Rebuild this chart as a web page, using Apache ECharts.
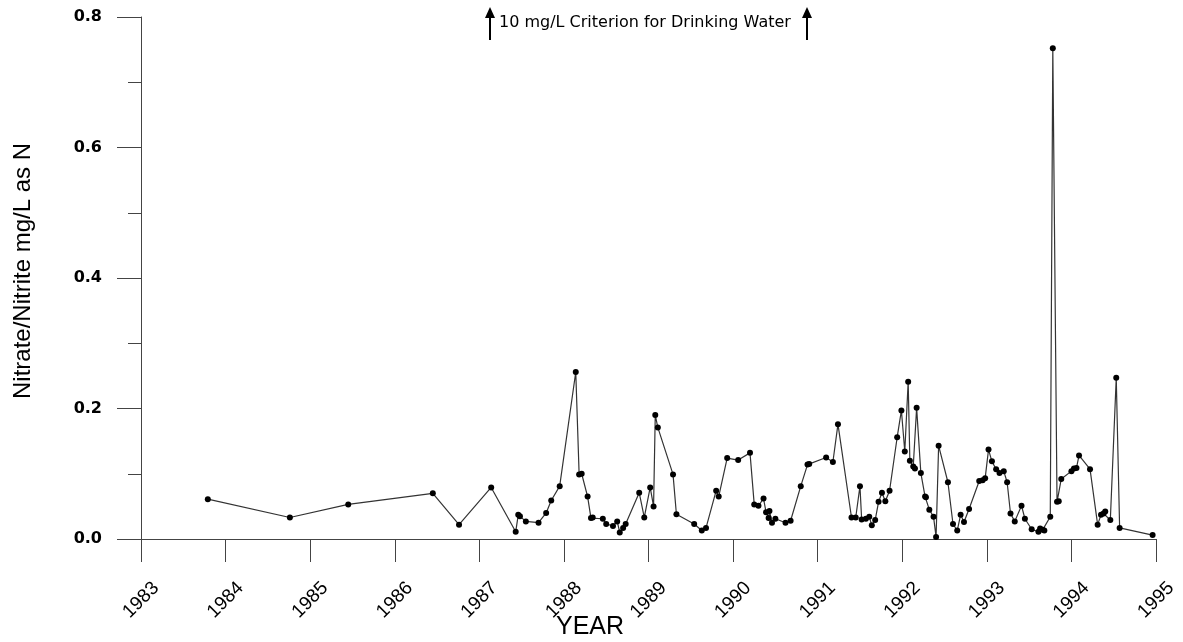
<!DOCTYPE html>
<html>
<head>
<meta charset="utf-8">
<title>Nitrate/Nitrite 1983-1995</title>
<script src="https://cdn.jsdelivr.net/npm/echarts@6/dist/echarts.min.js"></script>
<style>
  html, body { margin: 0; padding: 0; background: #fff; }
  #chart { width: 1183px; height: 642px; }
</style>
</head>
<body>
<div id="chart"></div>
<script>
// Sample dates (decimal years) and measured nitrate/nitrite concentrations (mg/L as N)
const sampleYears = [
  1983.79, 1984.76, 1985.45, 1986.45, 1986.76, 1987.14, 1987.43, 1987.46, 1987.48, 1987.55,
  1987.70, 1987.79, 1987.85, 1987.95, 1988.14, 1988.18, 1988.21, 1988.28, 1988.32, 1988.34,
  1988.46, 1988.50, 1988.58, 1988.63, 1988.66, 1988.70, 1988.73, 1988.89, 1988.95, 1989.02,
  1989.06, 1989.08, 1989.11, 1989.29, 1989.33, 1989.54, 1989.63, 1989.68, 1989.80, 1989.83,
  1989.93, 1990.06, 1990.20, 1990.25, 1990.30, 1990.36, 1990.39, 1990.42, 1990.43, 1990.46,
  1990.50, 1990.62, 1990.68, 1990.80, 1990.88, 1990.90, 1991.10, 1991.18, 1991.24, 1991.40,
  1991.45, 1991.50, 1991.52, 1991.57, 1991.61, 1991.64, 1991.68, 1991.72, 1991.76, 1991.80,
  1991.85, 1991.94, 1991.99, 1992.03, 1992.07, 1992.09, 1992.13, 1992.15, 1992.17, 1992.22,
  1992.27, 1992.28, 1992.32, 1992.37, 1992.40, 1992.43, 1992.54, 1992.60, 1992.65, 1992.69,
  1992.73, 1992.79, 1992.91, 1992.95, 1992.98, 1993.02, 1993.06, 1993.11, 1993.15, 1993.20,
  1993.24, 1993.28, 1993.33, 1993.41, 1993.45, 1993.53, 1993.61, 1993.63, 1993.66, 1993.68,
  1993.75, 1993.78, 1993.83, 1993.85, 1993.88, 1994.00, 1994.03, 1994.06, 1994.09, 1994.22,
  1994.31, 1994.35, 1994.38, 1994.40, 1994.46, 1994.53, 1994.57, 1994.96
];
const nitrateValues = [
  0.061, 0.033, 0.053, 0.070, 0.022, 0.079, 0.011, 0.037, 0.035, 0.027,
  0.025, 0.040, 0.059, 0.081, 0.256, 0.099, 0.100, 0.065, 0.032, 0.033,
  0.031, 0.023, 0.020, 0.027, 0.010, 0.017, 0.023, 0.071, 0.033, 0.079,
  0.050, 0.190, 0.171, 0.099, 0.038, 0.023, 0.013, 0.017, 0.074, 0.065,
  0.124, 0.121, 0.132, 0.053, 0.051, 0.062, 0.041, 0.032, 0.043, 0.025,
  0.031, 0.025, 0.028, 0.081, 0.114, 0.115, 0.125, 0.118, 0.176, 0.033,
  0.033, 0.081, 0.030, 0.031, 0.034, 0.021, 0.029, 0.057, 0.071, 0.058,
  0.074, 0.156, 0.197, 0.134, 0.241, 0.120, 0.111, 0.108, 0.201, 0.101,
  0.065, 0.064, 0.045, 0.034, 0.003, 0.143, 0.087, 0.023, 0.013, 0.037,
  0.026, 0.046, 0.089, 0.090, 0.093, 0.137, 0.119, 0.107, 0.101, 0.104,
  0.087, 0.039, 0.027, 0.051, 0.031, 0.015, 0.011, 0.016, 0.014, 0.013,
  0.034, 0.752, 0.057, 0.058, 0.092, 0.104, 0.108, 0.109, 0.128, 0.107,
  0.022, 0.037, 0.039, 0.042, 0.029, 0.247, 0.017, 0.006
];

// Axis ranges and labels
const yearMin = 1983, yearMax = 1995, yearStep = 1;
const concMin = 0, concMax = 0.8, concStep = 0.2;
const yTitle = 'Nitrate/Nitrite mg/L as N';
const xTitle = 'YEAR';
const criterionNote = '10 mg/L Criterion for Drinking Water';

const points = sampleYears.map((yr, i) => [yr, nitrateValues[i]]);
const axisGray = '#444';

// Up-arrow drawn as a shaft plus a triangular head
function upArrow(x) {
  return {
    type: 'group',
    children: [
      { type: 'line', shape: { x1: x, y1: 16, x2: x, y2: 40 },
        style: { stroke: '#000', lineWidth: 2 } },
      { type: 'polygon', shape: { points: [[x, 7], [x - 5, 18], [x + 5, 18]] },
        style: { fill: '#000' } }
    ]
  };
}

const chart = echarts.init(document.getElementById('chart'), null, { renderer: 'canvas' });
chart.setOption({
  animation: false,
  backgroundColor: '#fff',
  grid: { left: 141, right: 27, top: 17, bottom: 103, containLabel: false },
  xAxis: {
    type: 'value',
    min: yearMin, max: yearMax, interval: yearStep,
    splitLine: { show: false },
    axisLine: { onZero: false, lineStyle: { color: axisGray, width: 1 } },
    axisTick: { length: 23, lineStyle: { color: axisGray } },
    axisLabel: {
      rotate: 45, align: 'center', verticalAlign: 'middle', margin: 61,
      fontFamily: 'Liberation Sans', fontSize: 19, color: '#000',
      formatter: v => String(Math.round(v))
    }
  },
  yAxis: {
    type: 'value',
    min: concMin, max: concMax, interval: concStep,
    name: yTitle, nameLocation: 'middle', nameGap: 106, nameRotate: 90,
    nameTextStyle: { fontFamily: 'Liberation Sans', fontSize: 24, color: '#000', padding: [0, 0, 0, 14] },
    splitLine: { show: false },
    axisLine: { show: true, lineStyle: { color: axisGray, width: 1 } },
    axisTick: { length: 24, lineStyle: { color: axisGray } },
    minorTick: { show: true, splitNumber: 2, length: 13, lineStyle: { color: axisGray } },
    axisLabel: {
      margin: 39, fontFamily: 'DejaVu Sans', fontWeight: 'bold', fontSize: 16, color: '#000',
      formatter: v => v.toFixed(1)
    }
  },
  series: [{
    type: 'line',
    data: points,
    symbol: 'circle',
    symbolSize: 6,
    itemStyle: { color: '#000' },
    lineStyle: { color: '#333', width: 1.2 },
    z: 3
  }],
  graphic: [
    upArrow(490),
    upArrow(807),
    { type: 'text', left: 499, top: 15,
      style: { text: criterionNote, font: '16px "DejaVu Sans"', fill: '#000' } },
    { type: 'text', left: 556, top: 615,
      style: { text: xTitle, font: '25px "Liberation Sans"', fill: '#000' } }
  ]
});
</script>
</body>
</html>
